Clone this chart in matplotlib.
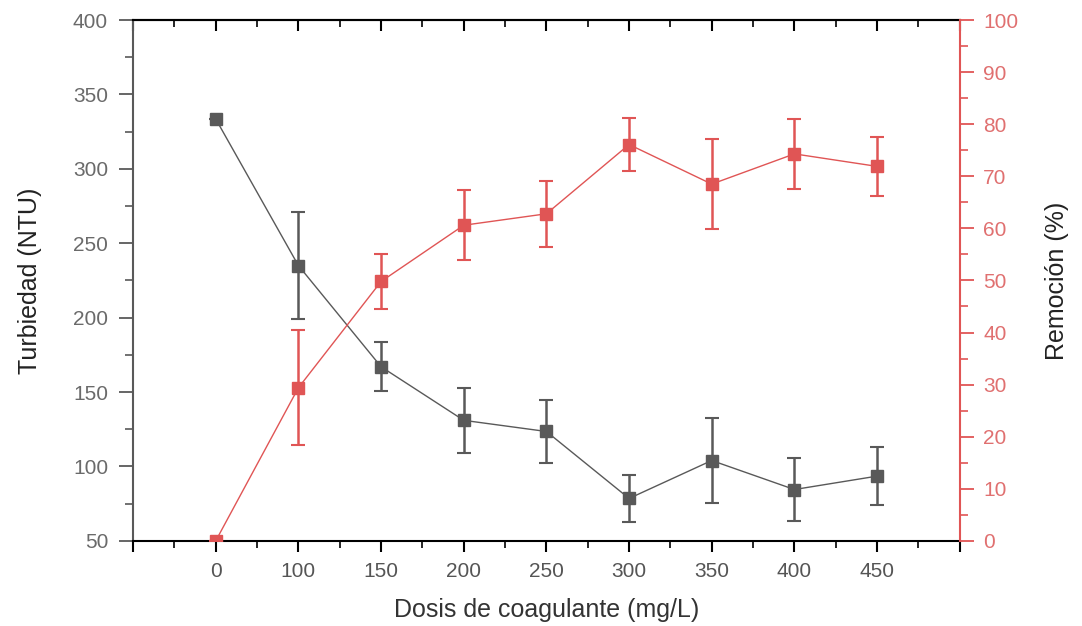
import numpy as np
import matplotlib.pyplot as plt
from matplotlib.ticker import MultipleLocator

plt.rcParams['font.family'] = ['Liberation Sans', 'DejaVu Sans']

# datos
dosis = ['0', '100', '150', '200', '250', '300', '350', '400', '450']
turbiedad = [333.5, 235, 167, 131, 123.5, 78.5, 104, 84.5, 93.5]
turbiedad_err = [0, 36, 16.5, 22, 21.4, 16, 28.5, 21, 19.5]
remocion = [0, 29.4, 49.8, 60.6, 62.8, 76.1, 68.5, 74.3, 71.9]
remocion_err = [0, 11, 5.2, 6.7, 6.3, 5, 8.6, 6.7, 5.7]

gris = '#595959'
rojo = '#e05555'

x = np.arange(len(dosis))

fig = plt.figure(figsize=(10.82, 6.26), dpi=100)
ax = fig.add_axes([0.123, 0.136, 0.764, 0.832])

ax.errorbar(x, turbiedad, yerr=turbiedad_err, color=gris, marker='s',
            markersize=9, lw=1, elinewidth=1.8, capsize=5, capthick=1.5)
ax.set_xlim(-1, len(dosis))
ax.set_ylim(50, 400)
ax.yaxis.set_major_locator(MultipleLocator(50))
ax.yaxis.set_minor_locator(MultipleLocator(25))

ax.set_xticks(np.arange(-1, len(dosis) + 1))
ax.set_xticklabels([''] + dosis + [''])
ax.xaxis.set_minor_locator(MultipleLocator(0.5))
ax.tick_params(axis='x', which='major', length=8, width=1.5, colors='black',
               labelcolor='#555555', labelsize=15, direction='out', pad=7)
ax.tick_params(axis='x', which='minor', length=5, width=1.2, colors='black',
               direction='out')
ax.tick_params(axis='y', which='major', length=10, width=1.3, colors=gris,
               labelcolor='#6a6a6a', labelsize=15, pad=8)
ax.tick_params(axis='y', which='minor', length=6, width=1.2, colors=gris)

ax.spines['left'].set_color(gris)
ax.spines['left'].set_linewidth(1.5)
ax.spines['bottom'].set_linewidth(1.5)
ax.spines['top'].set_linewidth(1.5)
ax.spines['right'].set_visible(False)

# ticks interiores arriba
top = ax.secondary_xaxis('top')
top.set_xticks(np.arange(-1, len(dosis) + 1))
top.set_xticklabels([])
top.xaxis.set_minor_locator(MultipleLocator(0.5))
top.tick_params(which='major', direction='in', length=8, width=1.5)
top.tick_params(which='minor', direction='in', length=5, width=1.2)
top.spines['top'].set_linewidth(1.5)

ax.set_xlabel('Dosis de coagulante (mg/L)', fontsize=18, color='#333333')
ax.xaxis.set_label_coords(0.5, -0.109)
ax.set_ylabel('Turbiedad (NTU)', fontsize=18, color='#222222')
ax.yaxis.set_label_coords(-0.110, 0.5)

ax2 = ax.twinx()
ax2.errorbar(x, remocion, yerr=remocion_err, color=rojo, marker='s',
             markersize=9, lw=1, elinewidth=1.8, capsize=5, capthick=1.5)
ax2.set_ylim(0, 100)
ax2.yaxis.set_major_locator(MultipleLocator(10))
ax2.yaxis.set_minor_locator(MultipleLocator(5))
ax2.tick_params(axis='y', which='major', length=10, width=1.3, colors=rojo,
                labelcolor='#e07070', labelsize=15, pad=7)
ax2.tick_params(axis='y', which='minor', length=6, width=1.2, colors=rojo)
for s in ['left', 'top', 'bottom']:
    ax2.spines[s].set_visible(False)
ax2.spines['right'].set_color(rojo)
ax2.spines['right'].set_linewidth(1.5)
ax2.set_ylabel('Remoción (%)', fontsize=18, color='#222222')
ax2.yaxis.set_label_coords(1.103, 0.5)

fig.savefig('out.png', dpi=100)
